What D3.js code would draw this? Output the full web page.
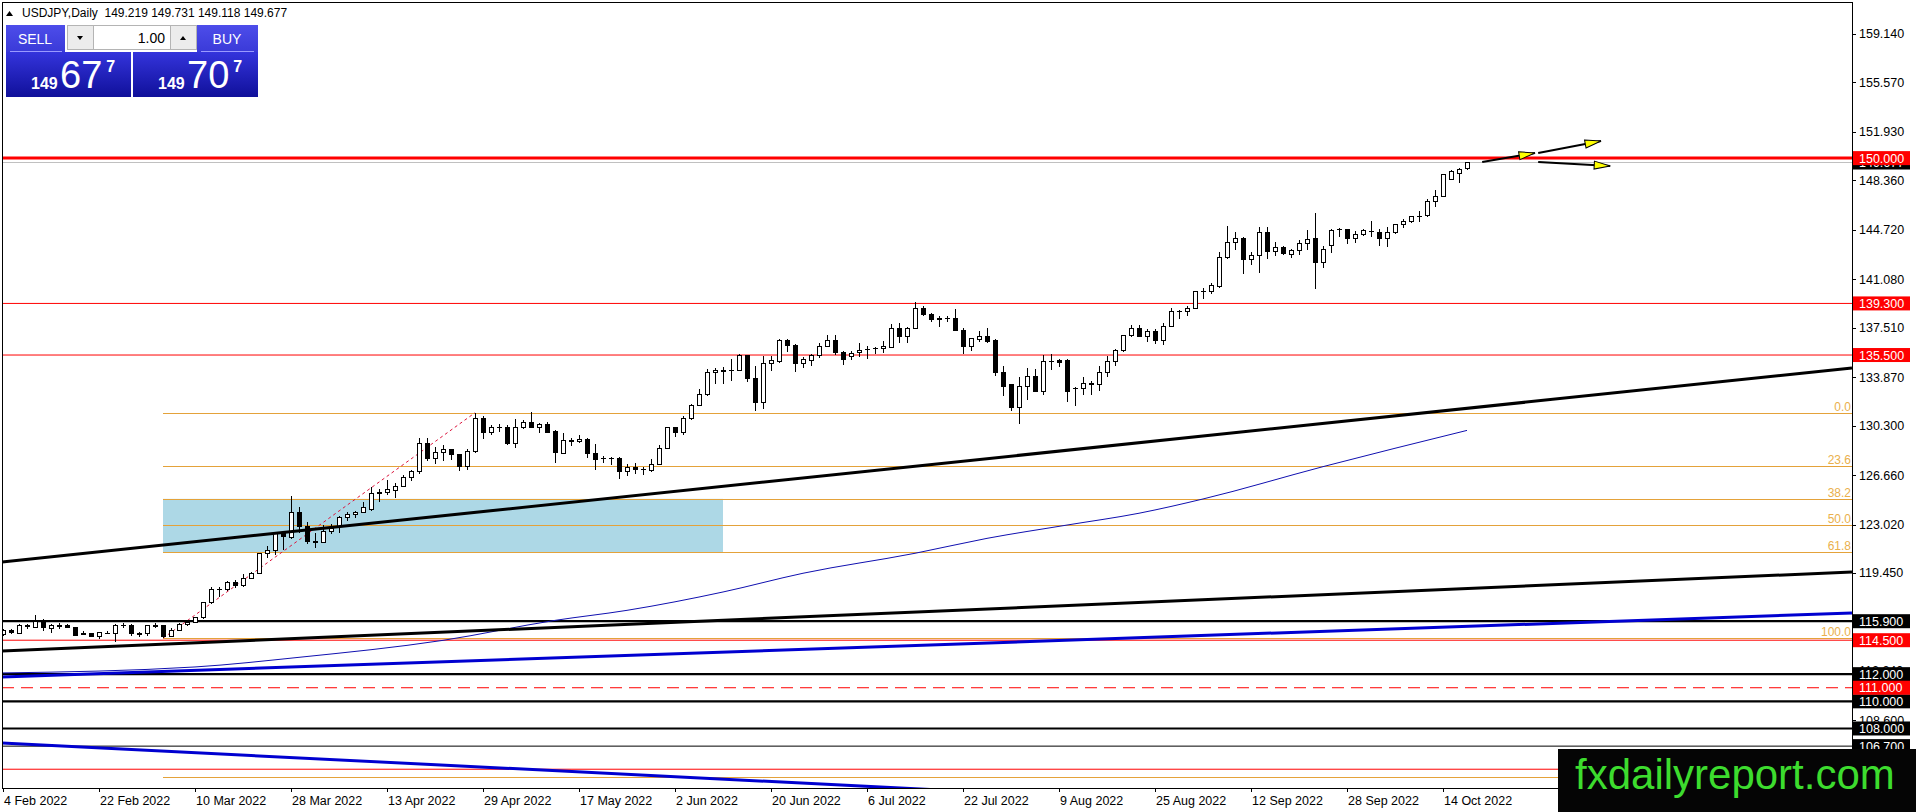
<!DOCTYPE html>
<html>
<head>
<meta charset="utf-8">
<script src="https://cdn.jsdelivr.net/npm/d3@7"></script>
<style>
html, body { margin: 0; padding: 0; background: #fff; overflow: hidden; }
svg { display: block; font-family: "Liberation Sans", Arial, sans-serif; }
</style>
</head>
<body>
<svg id="svg" width="1916" height="812"></svg>
<script>
// USDJPY daily, 4 Feb 2022 .. 19 Oct 2022 (bar 0 .. 183)
const opens = [
114.95,115.20,115.03,115.55,115.47,115.90,115.33,115.55,115.55,115.47,
114.94,115.03,114.74,115.03,115.03,115.55,115.55,114.96,114.96,115.55,
115.55,114.80,115.25,115.62,115.84,116.14,117.24,118.20,118.20,118.78,
118.56,119.08,119.38,120.85,121.07,122.40,122.03,123.94,122.84,121.80,
121.68,122.54,122.84,123.57,123.79,123.94,124.09,125.34,125.41,125.56,
125.85,126.45,126.96,128.95,127.85,128.35,128.57,128.14,127.26,128.36,
130.79,129.76,130.13,130.13,129.00,130.13,130.50,130.20,130.40,129.90,
128.28,129.24,129.10,129.30,128.28,127.90,127.88,127.90,126.90,127.25,
127.10,127.03,127.47,128.65,130.13,129.76,130.86,131.80,132.56,134.18,
134.33,134.35,134.33,135.43,133.80,132.04,134.90,135.00,136.60,136.20,
134.90,135.10,135.43,136.16,136.60,135.65,135.36,135.65,135.90,135.95,
135.95,136.02,137.42,136.83,137.42,138.96,138.50,138.10,138.20,138.20,
137.27,136.10,136.68,136.83,136.60,134.25,133.30,131.60,133.15,133.90,
132.85,135.06,135.13,135.13,133.00,133.00,133.44,133.30,134.18,135.06,
135.80,136.91,137.48,136.85,137.20,136.58,137.60,138.69,138.67,138.96,
140.16,140.20,140.58,142.70,143.75,144.10,142.50,142.80,144.55,143.15,
143.45,142.90,143.20,143.70,144.05,142.30,143.60,144.78,144.78,144.10,
144.40,144.60,144.55,144.10,144.50,145.10,145.30,145.70,145.74,146.77,
147.14,148.46,148.90,149.219]
const highs = [
115.35,115.35,115.68,115.67,116.35,116.05,115.70,115.80,115.70,115.50,
115.16,115.05,115.14,115.17,115.69,115.78,115.73,115.14,115.65,115.80,
115.60,115.40,115.80,116.00,116.21,117.35,118.39,118.45,118.89,118.92,
119.40,119.50,120.95,121.41,122.43,122.44,125.10,124.28,123.20,122.43,
122.98,123.04,123.65,123.94,124.05,124.68,125.77,125.63,126.31,126.10,
126.68,127.02,129.40,129.41,128.72,128.84,128.58,128.14,128.55,131.25,
131.00,130.35,130.40,130.37,130.80,130.75,131.30,130.48,130.57,130.00,
129.79,129.40,129.62,129.42,128.93,128.05,128.00,127.96,127.45,127.55,
127.28,127.85,128.89,130.18,130.22,130.98,131.92,132.99,134.48,134.56,
134.60,135.19,135.59,135.47,134.68,135.43,135.43,136.71,136.71,136.30,
135.38,135.58,136.38,137.00,136.99,135.80,135.80,136.40,136.15,136.10,
136.56,137.75,137.87,137.60,139.38,139.14,138.57,138.35,138.40,138.88,
137.47,136.75,137.25,137.46,136.65,134.68,133.40,133.90,134.55,134.45,
135.50,135.58,135.20,135.20,133.18,133.88,133.60,134.70,135.42,135.93,
137.00,137.71,137.68,137.45,137.40,137.84,138.99,138.85,139.10,140.24,
140.40,140.80,143.06,145.00,144.55,144.20,143.07,144.93,144.96,143.80,
143.50,143.34,144.00,144.70,145.96,143.50,144.79,144.88,144.80,144.60,
144.80,145.40,144.78,144.90,145.17,145.50,145.68,146.10,146.98,147.67,
148.86,149.10,149.28,149.731]
const lows = [
114.80,114.95,114.98,115.30,115.45,115.20,115.02,115.35,115.40,114.85,
114.86,114.70,114.60,114.95,114.37,115.40,114.82,114.70,114.82,115.40,
114.65,114.72,115.20,115.55,115.78,116.07,117.20,117.70,118.12,118.35,
118.45,119.00,119.35,120.55,120.79,121.17,121.95,122.43,121.56,121.28,
121.65,122.35,122.41,123.30,123.50,123.90,124.05,124.68,125.20,125.00,
125.75,126.22,126.75,127.72,127.50,127.70,127.80,126.94,127.06,128.32,
129.30,129.60,129.85,128.90,128.67,130.05,130.25,129.78,129.80,127.55,
128.20,128.80,128.99,127.90,127.03,127.52,127.40,126.36,126.57,126.73,
126.63,126.87,127.40,128.60,129.50,129.60,130.75,131.75,132.50,133.40,
133.40,133.58,134.30,133.51,131.38,131.49,134.30,134.90,135.75,134.28,
134.53,134.72,135.29,136.09,135.50,134.75,135.10,135.39,135.22,135.60,
135.66,136.00,136.40,136.40,137.38,138.38,137.90,137.59,137.90,137.27,
135.55,135.80,136.45,136.37,133.92,132.50,131.40,130.40,132.20,132.80,
132.53,134.38,134.65,132.05,131.73,132.55,132.56,132.88,133.90,134.68,
135.75,136.85,136.82,136.49,136.30,136.25,137.55,138.15,138.35,138.93,
139.63,140.03,140.40,142.60,143.20,141.50,142.13,141.57,142.55,142.82,
142.87,142.65,142.90,143.20,140.36,141.90,143.00,144.20,143.70,143.75,
144.25,144.20,143.52,143.45,144.40,144.85,145.20,145.30,145.70,146.38,
147.10,148.45,148.17,149.118]
const closes = [
115.25,115.10,115.55,115.50,115.90,115.47,115.55,115.52,115.47,114.88,
114.98,114.74,115.10,115.03,115.55,115.58,114.96,114.94,115.55,115.53,
114.80,115.25,115.62,115.84,116.14,117.24,118.20,118.27,118.78,118.56,
119.08,119.38,120.85,121.10,122.40,122.10,123.94,122.90,121.80,121.68,
122.54,122.75,123.57,123.79,123.94,124.30,125.34,125.41,125.60,125.85,
126.45,126.96,128.95,127.90,128.35,128.57,128.14,127.26,128.36,130.79,
129.76,130.13,130.13,129.00,130.13,130.50,130.20,130.40,129.83,128.30,
129.17,129.10,129.30,128.28,127.84,127.88,127.90,126.90,127.25,127.10,
127.08,127.46,128.65,130.13,129.83,130.79,131.80,132.56,134.18,134.33,
134.30,134.33,135.43,133.80,132.04,134.90,135.08,136.60,136.20,134.90,
135.20,135.50,136.16,136.60,135.65,135.20,135.60,135.87,135.94,135.95,
136.10,137.42,136.83,137.42,138.96,138.45,138.08,138.20,138.20,137.27,
136.10,136.70,136.83,136.53,134.18,133.15,131.60,133.15,133.90,132.85,
135.06,135.06,134.98,132.78,133.00,133.44,133.30,134.25,135.06,135.80,
136.91,137.48,136.85,137.20,136.58,137.60,138.69,138.70,138.96,140.16,
140.16,140.60,142.70,143.75,144.10,142.57,142.80,144.55,143.15,143.45,
142.95,143.20,143.70,144.00,142.35,143.30,144.70,144.78,144.10,144.40,
144.70,144.60,144.10,144.50,145.10,145.35,145.70,145.72,146.77,147.14,
148.76,148.98,149.13,149.677]

// moving average at a few bars
const maBars = [0, 24, 37, 55, 69, 78, 90, 100, 114, 123, 133, 142, 150, 165, 183]
const maValues = [112.09, 112.53, 113.24, 114.49, 115.96, 116.70, 118.05, 119.43, 120.90, 122.00, 122.98, 123.85, 124.90, 127.28, 129.95]

const dateTicks = [0, 12, 24, 36, 48, 60, 72, 84, 96, 108, 120, 132, 144, 156, 168, 180]
const dateLabels = ['4 Feb 2022', '22 Feb 2022', '10 Mar 2022', '28 Mar 2022', '13 Apr 2022', '29 Apr 2022',
    '17 May 2022', '2 Jun 2022', '20 Jun 2022', '6 Jul 2022', '22 Jul 2022', '9 Aug 2022',
    '25 Aug 2022', '12 Sep 2022', '28 Sep 2022', '14 Oct 2022']
const priceTicks = [159.14, 155.57, 151.93, 148.36, 144.72, 141.08, 137.51, 133.87, 130.30, 126.66, 123.02, 119.45, 112.24, 108.60]

const lastPrice = 149.677
const roundLevel = 150.0
const redLevels = [139.3, 135.5, 114.5]
const lowRedLevels = [105.0]
const dashedLevels = [111.0]
const blackLevels = [115.9, 112.0, 110.0, 108.0]
const thinBlackLevels = [106.7]

// fibonacci retracement
const fibHigh = 131.25
const fibLow = 114.65
const fibStartBar = 20
const fibHighBar = 59
const fibRatios = [0, 23.6, 38.2, 50.0, 61.8, 100.0, 161.8]
const zoneBars = [20, 90]

// trend lines [bar1, price1, bar2, price2]
const blackTrends = [[-0.125, 120.26, 231.125, 134.55], [-0.125, 113.70, 231.125, 119.52]]
const blueTrends = [[-0.125, 111.79, 231.125, 116.50], [-0.125, 106.93, 124.6, 103.25]]
const arrows = [[184.9, 149.71, 191.5, 150.38], [191.9, 150.38, 199.75, 151.26], [191.9, 149.71, 200.9, 149.42]]

const L = 2, R = 1852, T = 2, B = 788
const x = d3.scaleLinear().domain([0, 231.125]).range([3, R])
const y = d3.scaleLinear().domain([103.617, 161.496]).range([B, T])
const fibPrice = (r) => fibHigh - r / 100 * (fibHigh - fibLow)

const svg = d3.select('#svg')
const defs = svg.append('defs')
defs.append('clipPath').attr('id', 'plot')
    .append('rect').attr('x', L).attr('y', T).attr('width', R - L).attr('height', B - T)
defs.append('marker')
    .attr('id', 'head')
    .attr('viewBox', '0 0 18 10')
    .attr('refX', 17).attr('refY', 5)
    .attr('markerWidth', 18).attr('markerHeight', 10)
    .attr('markerUnits', 'userSpaceOnUse')
    .attr('orient', 'auto')
    .append('path').attr('d', 'M1,1 L17,5 L1,9 Z')
    .attr('fill', '#ffff00').attr('stroke', '#000').attr('stroke-width', 1)
const g1 = defs.append('linearGradient').attr('id', 'bigbox').attr('x1', 0).attr('x2', 0).attr('y1', 0).attr('y2', 1)
g1.append('stop').attr('offset', '0%').attr('stop-color', '#3434dc')
g1.append('stop').attr('offset', '100%').attr('stop-color', '#10109a')
const g2 = defs.append('linearGradient').attr('id', 'btn').attr('x1', 0).attr('x2', 0).attr('y1', 0).attr('y2', 1)
g2.append('stop').attr('offset', '0%').attr('stop-color', '#4d4dea')
g2.append('stop').attr('offset', '100%').attr('stop-color', '#3a3ad8')

const plot = svg.append('g').attr('clip-path', 'url(#plot)')

// zone + fibonacci
plot.append('rect')
    .attr('x', x(zoneBars[0])).attr('width', x(zoneBars[1]) - x(zoneBars[0]))
    .attr('y', y(fibPrice(38.2))).attr('height', y(fibPrice(61.8)) - y(fibPrice(38.2)))
    .attr('fill', '#add8e6')

plot.selectAll('line.fib')
    .data(fibRatios)
    .enter()
    .append('line')
    .attr('x1', x(fibStartBar)).attr('x2', R)
    .attr('y1', (d) => Math.round(y(fibPrice(d))) + 0.5)
    .attr('y2', (d) => Math.round(y(fibPrice(d))) + 0.5)
    .attr('stroke', '#e4a23a').attr('stroke-width', 1)

// the 161.8 label sits under the watermark, so only the visible ones get text
plot.selectAll('text.fib')
    .data(fibRatios.filter((d) => d <= 100))
    .enter()
    .append('text')
    .attr('x', R - 1)
    .attr('y', (d) => y(fibPrice(d)) - 2)
    .attr('text-anchor', 'end')
    .attr('font-size', 12)
    .attr('fill', '#eab04c')
    .text((d) => d.toFixed(1))

plot.append('line')
    .attr('x1', x(fibStartBar)).attr('y1', y(fibLow))
    .attr('x2', x(fibHighBar)).attr('y2', y(fibHigh))
    .attr('stroke', '#dc143c').attr('stroke-width', 1).attr('stroke-dasharray', '3,3')

// horizontal levels
const hline = (vals, color, width, dash) => plot.append('g').selectAll('line')
    .data(vals)
    .enter()
    .append('line')
    .attr('x1', L).attr('x2', R)
    .attr('y1', (d) => y(d)).attr('y2', (d) => y(d))
    .attr('stroke', color).attr('stroke-width', width)
    .attr('stroke-dasharray', dash || null)

hline([lastPrice], '#c0c0c0', 1)
hline(redLevels.concat(lowRedLevels), '#ff0000', 1)
hline(dashedLevels, '#ff0000', 1, '12,7')
hline(thinBlackLevels, '#000', 1)
hline(blackLevels, '#000', 2.2)
hline([roundLevel], '#ff0000', 3)

// moving average
plot.append('path')
    .datum(maBars.map((b, i) => [b, maValues[i]]))
    .attr('d', d3.line().x((d) => x(d[0])).y((d) => y(d[1])).curve(d3.curveMonotoneX))
    .attr('fill', 'none').attr('stroke', '#1010b0').attr('stroke-width', 1)

// candles
const bars = plot.append('g').attr('shape-rendering', 'crispEdges')
    .selectAll('g')
    .data(d3.range(opens.length))
    .enter()
    .append('g')
bars.append('line')
    .attr('x1', (i) => Math.round(x(i)) + 0.5).attr('x2', (i) => Math.round(x(i)) + 0.5)
    .attr('y1', (i) => y(highs[i])).attr('y2', (i) => y(lows[i]))
    .attr('stroke', '#000')
bars.append('rect')
    .attr('x', (i) => Math.round(x(i)) - 1.5)
    .attr('width', 4)
    .attr('y', (i) => y(Math.max(opens[i], closes[i])))
    .attr('height', (i) => Math.max(0.01, Math.abs(y(opens[i]) - y(closes[i]))))
    .attr('fill', (i) => closes[i] >= opens[i] ? '#fff' : '#000')
    .attr('stroke', '#000').attr('stroke-width', 1)

// trend lines
plot.selectAll('line.trend')
    .data(blackTrends.concat(blueTrends))
    .enter()
    .append('line')
    .attr('x1', (d) => x(d[0])).attr('y1', (d) => y(d[1]))
    .attr('x2', (d) => x(d[2])).attr('y2', (d) => y(d[3]))
    .attr('stroke', (d, i) => i < blackTrends.length ? '#000' : '#0000d0')
    .attr('stroke-width', 3)

plot.selectAll('line.arrow')
    .data(arrows)
    .enter()
    .append('line')
    .attr('x1', (d) => x(d[0])).attr('y1', (d) => y(d[1]))
    .attr('x2', (d) => x(d[2])).attr('y2', (d) => y(d[3]))
    .attr('stroke', '#000').attr('stroke-width', 2)
    .attr('marker-end', 'url(#head)')

// frame
svg.append('rect')
    .attr('x', L + 0.5).attr('y', T + 0.5).attr('width', R - L).attr('height', B - T)
    .attr('fill', 'none').attr('stroke', '#000').attr('stroke-width', 1)

// price axis
svg.selectAll('line.ptick')
    .data(priceTicks)
    .enter()
    .append('line')
    .attr('x1', R).attr('x2', R + 4)
    .attr('y1', (d) => Math.round(y(d)) + 0.5).attr('y2', (d) => Math.round(y(d)) + 0.5)
    .attr('stroke', '#000')
svg.selectAll('text.ptick')
    .data(priceTicks)
    .enter()
    .append('text')
    .attr('x', R + 7)
    .attr('y', (d) => y(d) + 4.5)
    .attr('font-size', 12.5)
    .attr('fill', '#000')
    .text((d) => d.toFixed(3))

const priceBox = (v, fill) => {
    svg.append('rect')
        .attr('x', R + 1).attr('y', y(v) - 7).attr('width', 57).attr('height', 14)
        .attr('fill', fill)
    svg.append('text')
        .attr('x', R + 7).attr('y', y(v) + 4.5)
        .attr('font-size', 12.5).attr('fill', '#fff')
        .text(v.toFixed(3))
}
priceBox(lastPrice, '#000')
priceBox(roundLevel, '#ff0000')
redLevels.forEach((v) => priceBox(v, '#ff0000'))
thinBlackLevels.forEach((v) => priceBox(v, '#000'))
blackLevels.forEach((v) => priceBox(v, '#000'))
dashedLevels.forEach((v) => priceBox(v, '#ff0000'))

// date axis
svg.selectAll('line.dtick')
    .data(dateTicks)
    .enter()
    .append('line')
    .attr('x1', (d) => Math.round(x(d)) + 0.5).attr('x2', (d) => Math.round(x(d)) + 0.5)
    .attr('y1', B).attr('y2', B + 4)
    .attr('stroke', '#000')
svg.selectAll('text.dtick')
    .data(dateTicks)
    .enter()
    .append('text')
    .attr('x', (d) => x(d) + 1)
    .attr('y', B + 17)
    .attr('font-size', 12.5)
    .attr('fill', '#000')
    .text((d, i) => dateLabels[i])

// header + one-click trading panel
svg.append('path').attr('d', 'M6,16 L9.5,11 L13,16 Z').attr('fill', '#000')
svg.append('text').attr('x', 22).attr('y', 17).attr('font-size', 12).attr('fill', '#000')
    .attr('xml:space', 'preserve')
    .text('USDJPY,Daily  149.219 149.731 149.118 149.677')

svg.append('rect').attr('x', 6).attr('y', 25).attr('width', 59).attr('height', 27).attr('fill', 'url(#btn)')
svg.append('rect').attr('x', 197).attr('y', 25).attr('width', 61).attr('height', 27).attr('fill', 'url(#btn)')
svg.append('line').attr('x1', 10).attr('x2', 62).attr('y1', 51.5).attr('y2', 51.5).attr('stroke', '#9a9aff')
svg.append('line').attr('x1', 201).attr('x2', 254).attr('y1', 51.5).attr('y2', 51.5).attr('stroke', '#9a9aff')
svg.append('text').attr('x', 35).attr('y', 44).attr('text-anchor', 'middle').attr('font-size', 14).attr('fill', '#fff').text('SELL')
svg.append('text').attr('x', 227).attr('y', 44).attr('text-anchor', 'middle').attr('font-size', 14).attr('fill', '#fff').text('BUY')
svg.append('rect').attr('x', 67.5).attr('y', 25.5).attr('width', 26).attr('height', 24).attr('fill', '#ececec').attr('stroke', '#b4b4b4')
svg.append('rect').attr('x', 93.5).attr('y', 25.5).attr('width', 77).attr('height', 24).attr('fill', '#fff').attr('stroke', '#b4b4b4')
svg.append('rect').attr('x', 170.5).attr('y', 25.5).attr('width', 26).attr('height', 24).attr('fill', '#ececec').attr('stroke', '#b4b4b4')
svg.append('path').attr('d', 'M77,36 L83,36 L80,40 Z').attr('fill', '#000')
svg.append('path').attr('d', 'M180,40 L186,40 L183,36 Z').attr('fill', '#000')
svg.append('text').attr('x', 165).attr('y', 43).attr('text-anchor', 'end').attr('font-size', 14).attr('fill', '#000').text('1.00')

const quote = (x0, big) => {
    svg.append('rect').attr('x', x0).attr('y', 52).attr('width', 125).attr('height', 45).attr('fill', 'url(#bigbox)')
    svg.append('text').attr('x', x0 + 25).attr('y', 89).attr('font-size', 16).attr('font-weight', 'bold').attr('fill', '#fff').text('149')
    const t = svg.append('text').attr('x', x0 + 54).attr('y', 88).attr('font-size', 38).attr('fill', '#fff').text(big)
    const w = t.node().getComputedTextLength()
    svg.append('text').attr('x', x0 + 58 + w).attr('y', 72).attr('font-size', 16).attr('font-weight', 'bold').attr('fill', '#fff').text('7')
}
quote(6, '67')
quote(133, '70')

// watermark
svg.append('rect').attr('x', 1558).attr('y', 749).attr('width', 358).attr('height', 63).attr('fill', '#050505')
svg.append('text').attr('x', 1575).attr('y', 789).attr('font-size', 42).attr('fill', '#3ddc2e').text('fxdailyreport.com')
</script>
</body>
</html>
